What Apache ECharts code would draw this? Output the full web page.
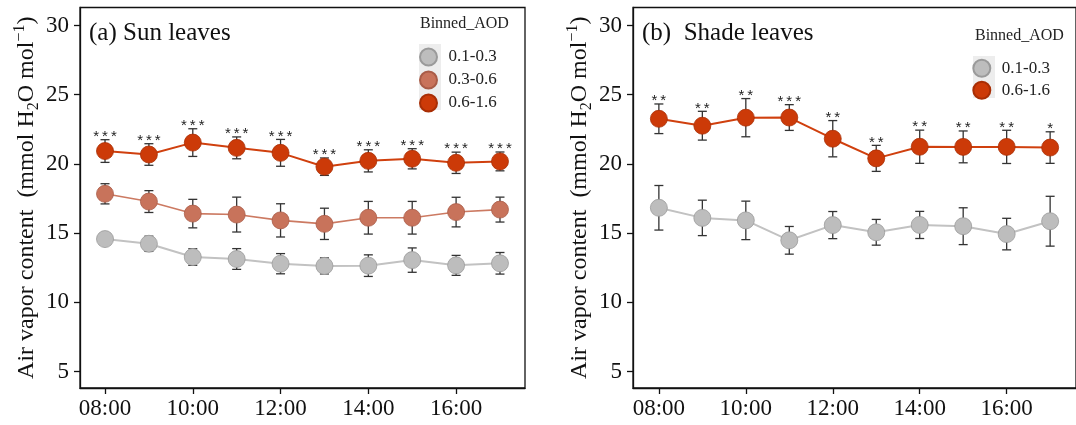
<!DOCTYPE html>
<html>
<head>
<meta charset="utf-8">
<script src="https://cdn.jsdelivr.net/npm/echarts@6/dist/echarts.min.js"></script>
<style>
html,body{margin:0;padding:0;background:#fff;}
#c{width:1076px;height:425px;}
</style>
</head>
<body>
<div id="c"></div>
<script>
// ---------------- data ----------------
var hours = [8, 9, 10, 11, 12, 13, 14, 15, 16, 17];
var hourLabels = ['08:00','09:00','10:00','11:00','12:00','13:00','14:00','15:00','16:00','17:00'];
var xTickHours = [8, 10, 12, 14, 16];
var yTicks = [5, 10, 15, 20, 25, 30];
var groupNames = ['0.1-0.3', '0.3-0.6', '0.6-1.6'];

// (a) Sun leaves
var sunLow     = [14.57, 14.23, 13.27, 13.13, 12.79, 12.63, 12.65, 13.05, 12.67, 12.82];
var sunLowSe   = [0.35, 0.55, 0.60, 0.75, 0.73, 0.58, 0.78, 0.88, 0.72, 0.78];
var sunMid     = [17.84, 17.28, 16.41, 16.34, 15.92, 15.67, 16.11, 16.11, 16.52, 16.70];
var sunMidSe   = [0.73, 0.79, 1.03, 1.26, 1.20, 1.13, 1.18, 1.18, 1.07, 0.90];
var sunHigh    = [20.93, 20.68, 21.54, 21.16, 20.80, 19.80, 20.22, 20.37, 20.08, 20.18];
var sunHighSe  = [0.82, 0.78, 1.00, 0.79, 0.97, 0.63, 0.80, 0.73, 0.77, 0.68];
var sunSig     = ['***','***','***','***','***','***','***','***','***','***'];

// (b) Shade leaves
var shadeLow    = [16.83, 16.10, 15.92, 14.48, 15.58, 15.06, 15.59, 15.50, 14.93, 15.86];
var shadeLowSe  = [1.61, 1.28, 1.39, 1.00, 0.98, 0.93, 0.98, 1.33, 1.14, 1.80];
var shadeHigh   = [23.26, 22.76, 23.34, 23.35, 21.82, 20.40, 21.24, 21.23, 21.23, 21.18];
var shadeHighSe = [1.07, 1.04, 1.38, 0.93, 1.31, 0.94, 1.20, 1.15, 1.20, 1.14];
var shadeSig    = ['**','**','**','***','**','**','**','**','**','*'];

// ---------------- styles ----------------
var SERIF = '"Liberation Serif","Times New Roman",serif';
var SANS = '"Liberation Sans",Arial,sans-serif';
var colors = {
  '0.1-0.3': {fill:'#BDBDBD', border:'#9A9A9A', line:'#C2C2C2', lw:2},
  '0.3-0.6': {fill:'#C8735B', border:'#A95C47', line:'#CC7A62', lw:1.6},
  '0.6-1.6': {fill:'#CC3A08', border:'#A82E05', line:'#D0400E', lw:2}
};

function zip(m, s) { return hours.map(function (h, i) { return [h, m[i], s[i]]; }); }

function lineSeries(name, m, k) {
  var c = colors[name];
  return {
    name: name, type: 'line', xAxisIndex: k, yAxisIndex: k,
    data: hours.map(function (h, i) { return [h, m[i]]; }),
    symbol: 'circle', symbolSize: 17, z: 3,
    itemStyle: {color: c.fill, borderColor: c.border, borderWidth: 0.8},
    lineStyle: {color: c.line, width: c.lw},
    emphasis: {disabled: true}, animation: false
  };
}

function errSeries(m, s, k) {
  return {
    type: 'custom', xAxisIndex: k, yAxisIndex: k, z: 2, silent: true,
    data: zip(m, s),
    renderItem: function (params, api) {
      var x = api.value(0), mu = api.value(1), se = api.value(2);
      var t = api.coord([x, mu + se]), b = api.coord([x, mu - se]);
      var w = 4.5, st = {stroke: '#333', lineWidth: 1.3};
      return {type: 'group', children: [
        {type: 'line', shape: {x1: t[0], y1: t[1], x2: b[0], y2: b[1]}, style: st},
        {type: 'line', shape: {x1: t[0]-w, y1: t[1], x2: t[0]+w, y2: t[1]}, style: st},
        {type: 'line', shape: {x1: b[0]-w, y1: b[1], x2: b[0]+w, y2: b[1]}, style: st}
      ]};
    },
    animation: false
  };
}

function sigSeries(m, s, sig, k) {
  return {
    type: 'custom', xAxisIndex: k, yAxisIndex: k, z: 4, silent: true,
    data: hours.map(function (h, i) { return [h, m[i] + s[i], i]; }),
    renderItem: function (params, api) {
      var p = api.coord([api.value(0), api.value(1)]);
      return {type: 'text', x: p[0], y: p[1] - 2.8,
        style: {text: sig[api.value(2)].split('').join('\u2009'), font: '15px ' + SANS, fill: '#222',
                align: 'center', verticalAlign: 'middle'}};
    },
    animation: false
  };
}

function xAxis(k, min, max) {
  return {
    type: 'value', gridIndex: k, min: min, max: max,
    axisLine: {show: true, lineStyle: {color: '#111', width: 1.3}},
    axisTick: {show: true, length: 6, lineStyle: {color: '#111', width: 1.3}, customValues: xTickHours},
    axisLabel: {show: true, margin: 9, fontFamily: SERIF, fontSize: 23, color: '#111',
      customValues: xTickHours,
      formatter: function (v) { return hourLabels[hours.indexOf(Math.round(v))]; }},
    splitLine: {show: false}
  };
}

function yAxis(k, gap) {
  return {
    type: 'value', gridIndex: k, min: 3.81, max: 31.3,
    name: '{m|Air vapor content  (mmol H}{sub|2}{m|O mol}{sup|−1}{m|)}',
    nameLocation: 'middle', nameGap: gap,
    nameTextStyle: {rich: {
      m: {fontFamily: SERIF, fontSize: 24, color: '#111', lineHeight: 30, verticalAlign: 'middle'},
      sub: {fontFamily: SERIF, fontSize: 16, color: '#111', lineHeight: 30, verticalAlign: 'bottom'},
      sup: {fontFamily: SERIF, fontSize: 16, color: '#111', lineHeight: 30, verticalAlign: 'top'}
    }},
    axisLine: {show: true, lineStyle: {color: '#111', width: 1.3}},
    axisTick: {show: true, length: 6, lineStyle: {color: '#111', width: 1.3}, customValues: yTicks},
    axisLabel: {show: true, margin: 11, fontFamily: SERIF, fontSize: 23, color: '#111', customValues: yTicks},
    splitLine: {show: false}
  };
}

var chart = echarts.init(document.getElementById('c'), null, {renderer: 'canvas'});
chart.setOption({
  backgroundColor: '#fff',
  animation: false,
  title: [
    {text: '(a) Sun leaves', left: 89, top: 21, padding: 0, textStyle: {fontFamily: SERIF, fontSize: 25, fontWeight: 'normal', color: '#111'}},
    {text: '(b)  Shade leaves', left: 642, top: 21, padding: 0, textStyle: {fontFamily: SERIF, fontSize: 25, fontWeight: 'normal', color: '#111'}},
    {text: 'Binned_AOD', left: 420, top: 16, padding: 0, textStyle: {fontFamily: SERIF, fontSize: 16, fontWeight: 'normal', color: '#222'}},
    {text: 'Binned_AOD', left: 975, top: 28, padding: 0, textStyle: {fontFamily: SERIF, fontSize: 16, fontWeight: 'normal', color: '#222'}}
  ],
  graphic: [
    {type: 'rect', left: 419, top: 44, shape: {width: 22, height: 66}, style: {fill: '#EDEDED'}, z: -1},
    {type: 'rect', left: 973, top: 56, shape: {width: 22, height: 42}, style: {fill: '#EDEDED'}, z: -1}
  ],
  legend: [
    {data: groupNames, orient: 'vertical', left: 419, top: 47.5, icon: 'circle',
     itemWidth: 22, itemHeight: 17, itemGap: 4, padding: 0, selectedMode: false,
     textStyle: {fontFamily: SERIF, fontSize: 17, color: '#222', padding: [0, 0, 0, 4]}},
    {data: [groupNames[0], groupNames[2]], orient: 'vertical', left: 972.3, top: 58.8, icon: 'circle',
     itemWidth: 22, itemHeight: 17, itemGap: 3, padding: 0, selectedMode: false,
     textStyle: {fontFamily: SERIF, fontSize: 17, color: '#222', padding: [0, 0, 0, 4]}}
  ],
  grid: [
    {left: 80, top: 7.5, width: 445, height: 380.5, show: true, borderColor: '#111', borderWidth: 1.3, backgroundColor: 'transparent'},
    {left: 633, top: 7.5, width: 446, height: 380.5, show: true, borderColor: '#111', borderWidth: 1.3, backgroundColor: 'transparent'}
  ],
  xAxis: [xAxis(0, 7.43, 17.57), xAxis(1, 7.405, 17.595)],
  yAxis: [yAxis(0, 38), yAxis(1, 35)],
  series: [
    errSeries(sunLow, sunLowSe, 0),
    errSeries(sunMid, sunMidSe, 0),
    errSeries(sunHigh, sunHighSe, 0),
    lineSeries(groupNames[0], sunLow, 0),
    lineSeries(groupNames[1], sunMid, 0),
    lineSeries(groupNames[2], sunHigh, 0),
    sigSeries(sunHigh, sunHighSe, sunSig, 0),
    errSeries(shadeLow, shadeLowSe, 1),
    errSeries(shadeHigh, shadeHighSe, 1),
    lineSeries(groupNames[0], shadeLow, 1),
    lineSeries(groupNames[2], shadeHigh, 1),
    sigSeries(shadeHigh, shadeHighSe, shadeSig, 1)
  ]
});
</script>
</body>
</html>
